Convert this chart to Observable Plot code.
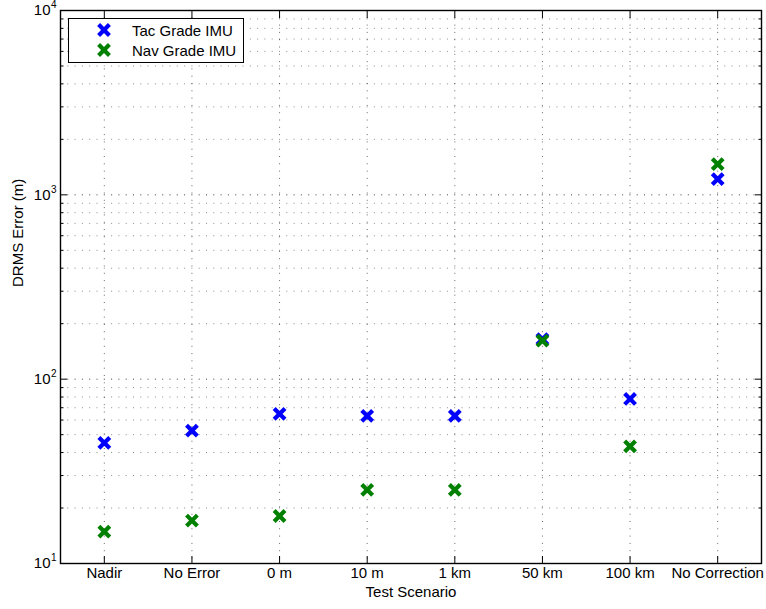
<!DOCTYPE html>
<html>
<head>
<meta charset="utf-8">
<script src="https://cdn.jsdelivr.net/npm/d3@7"></script>
<script src="https://cdn.jsdelivr.net/npm/@observablehq/plot@0.6"></script>
<style>
  body { margin: 0; background: #fff; }
  #wrap { position: relative; width: 766px; height: 609px; font-family: "Liberation Sans", Arial, Helvetica, sans-serif; }
  #legend { position: absolute; left: 68px; top: 18px; width: 174px; height: 43px; border: 1px solid #000; background: #fff; }
  .lg-row { position: absolute; left: 0; height: 20px; display: flex; align-items: center; font-size: 15px; color: #000; }
  .lg-row svg { position: absolute; left: 26px; }
  .lg-row span { position: absolute; left: 63px; white-space: nowrap; }
</style>
</head>
<body>
<div id="wrap"></div>
<script>
const scenarios = ["Nadir", "No Error", "0 m", "10 m", "1 km", "50 km", "100 km", "No Correction"];
const tacGrade = [45.1, 52.6, 64.8, 63.2, 63.2, 165, 78.1, 1216];
const navGrade = [14.9, 17.1, 18.1, 25.1, 25.1, 161.7, 43.2, 1467];
const seriesNames = ["Tac Grade IMU", "Nav Grade IMU"];
const seriesColors = ["#0000ff", "#008000"];
const yDecades = [10, 100, 1000, 10000];
const yMinor = [10, 100, 1000].flatMap(d => [2,3,4,5,6,7,8,9].map(k => k * d));

const positions = scenarios.map((_, i) => i + 1);
const rows = [];
scenarios.forEach((s, i) => rows.push({pos: i + 1, scenario: s, value: tacGrade[i], series: seriesNames[0]}));
scenarios.forEach((s, i) => rows.push({pos: i + 1, scenario: s, value: navGrade[i], series: seriesNames[1]}));

const fs = 15;
const tickOpts = {tickFormat: () => "", stroke: "#000", label: null};
const chart = Plot.plot({
  width: 766,
  height: 609,
  marginLeft: 60,
  marginRight: 5,
  marginTop: 10,
  marginBottom: 46,
  style: {fontFamily: '"Liberation Sans", Arial, Helvetica, sans-serif', background: "#fff", overflow: "visible"},
  x: {type: "linear", domain: [0.5, 8.5], label: null},
  y: {type: "log", domain: [10, 10000], label: null},
  color: {domain: seriesNames, range: seriesColors},
  marks: [
    // grid
    Plot.gridY(yMinor, {stroke: "#000", strokeOpacity: 0.45, strokeDasharray: "1,6.3"}),
    Plot.gridY(yDecades, {stroke: "#000", strokeOpacity: 0.75, strokeDasharray: "1,6.3"}),
    Plot.gridX(positions, {stroke: "#000", strokeOpacity: 0.6, strokeDasharray: "1,6.3"}),
    // ticks (inward)
    Plot.axisY(yDecades, {anchor: "left", tickSize: -7, ...tickOpts}),
    Plot.axisY(yMinor, {anchor: "left", tickSize: -3.5, ...tickOpts}),
    Plot.axisY(yDecades, {anchor: "right", tickSize: -7, ...tickOpts}),
    Plot.axisY(yMinor, {anchor: "right", tickSize: -3.5, ...tickOpts}),
    Plot.axisX(positions, {anchor: "bottom", tickSize: -7, ...tickOpts}),
    Plot.axisX(positions, {anchor: "top", tickSize: -7, ...tickOpts}),
    // y tick labels 10^n
    Plot.text(yDecades, {y: d => d, frameAnchor: "left", dx: -10, textAnchor: "end", text: () => "10", fontSize: fs, fill: "#000"}),
    Plot.text(yDecades, {y: d => d, frameAnchor: "left", dx: -9.5, dy: -5.5, textAnchor: "start", text: d => String(Math.round(Math.log10(d))), fontSize: 10, fill: "#000"}),
    // x tick labels
    Plot.text(positions, {x: d => d, frameAnchor: "bottom", dy: 14, text: d => scenarios[d - 1], fontSize: fs, fill: "#000"}),
    // axis titles
    Plot.text(["Test Scenario"], {frameAnchor: "bottom", dy: 33, text: d => d, fontSize: fs, fill: "#000"}),
    Plot.text(["DRMS Error (m)"], {frameAnchor: "left", dx: -42.5, rotate: -90, text: d => d, fontSize: fs, fill: "#000"}),
    // data
    Plot.dot(rows, {x: "pos", y: "value", stroke: "series", symbol: "times", r: 5, strokeWidth: 4.2}),
    Plot.frame({stroke: "#000", strokeWidth: 1.4})
  ]
});
const wrap = document.getElementById("wrap");
wrap.appendChild(chart);

const legend = document.createElement("div");
legend.id = "legend";
seriesNames.forEach((name, i) => {
  const row = document.createElement("div");
  row.className = "lg-row";
  row.style.top = (1 + i * 20) + "px";
  row.style.width = "174px";
  row.innerHTML = `<svg width="18" height="18" viewBox="-9 -9 18 18"><path d="M-5.4,-5.4L5.4,5.4M5.4,-5.4L-5.4,5.4" stroke="${seriesColors[i]}" stroke-width="4.2" fill="none"/></svg><span>${name}</span>`;
  legend.appendChild(row);
});
wrap.appendChild(legend);
</script>
</body>
</html>
